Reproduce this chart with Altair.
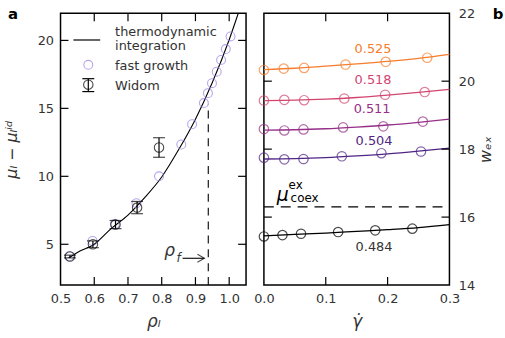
import altair as alt
import pandas as pd

# ---------------- Panel a data ----------------
rho_ti = [0.524, 0.55, 0.6, 0.65, 0.7, 0.75, 0.8, 0.85, 0.9, 0.95, 1.0, 1.027]
mu_ti = [4.0, 4.4, 5.0, 6.15, 7.15, 8.45, 9.95, 11.95, 14.2, 16.9, 20.05, 22.0]

rho_fast = [0.526, 0.595, 0.661, 0.725, 0.792, 0.858, 0.890, 0.925, 0.937, 0.949, 0.963, 0.976, 0.990, 1.004]
mu_fast = [4.12, 5.25, 6.49, 8.02, 10.0, 12.34, 13.83, 15.39, 16.12, 16.85, 17.7, 18.56, 19.36, 20.29]

rho_widom = [0.528, 0.596, 0.663, 0.727, 0.792]
mu_widom = [4.1, 5.0, 6.45, 7.7, 12.12]
err_widom = [0.1, 0.25, 0.3, 0.45, 0.72]

rho_f = [0.938]
rho_f_top = [15.3]

# ---------------- Panel b data ----------------
series = ["0.484", "0.504", "0.511", "0.518", "0.525"]
series_colors = ["#000000", "#4f2584", "#952f87", "#d1456f", "#f57d2c"]

gam_484 = [0.0, 0.03, 0.06, 0.12, 0.18, 0.24]
w_484 = [15.43, 15.47, 15.51, 15.56, 15.61, 15.66]
gam_504 = [0.0, 0.033, 0.064, 0.126, 0.19, 0.254]
w_504 = [17.75, 17.70, 17.71, 17.79, 17.88, 17.93]
gam_511 = [0.0, 0.033, 0.064, 0.128, 0.193, 0.257]
w_511 = [18.59, 18.55, 18.58, 18.64, 18.67, 18.81]
gam_518 = [0.0, 0.033, 0.065, 0.130, 0.196, 0.260]
w_518 = [19.43, 19.45, 19.44, 19.49, 19.60, 19.68]
gam_525 = [0.0, 0.032, 0.065, 0.132, 0.197, 0.264]
w_525 = [20.33, 20.37, 20.39, 20.49, 20.57, 20.69]

fit_gamma = [0.0, 0.05, 0.1, 0.15, 0.2, 0.25, 0.3]
fit_484 = [15.45, 15.49, 15.53, 15.58, 15.63, 15.69, 15.78]
fit_504 = [17.71, 17.72, 17.75, 17.80, 17.86, 17.94, 18.03]
fit_511 = [18.56, 18.57, 18.60, 18.65, 18.71, 18.79, 18.88]
fit_518 = [19.43, 19.44, 19.47, 19.52, 19.59, 19.67, 19.76]
fit_525 = [20.34, 20.38, 20.44, 20.51, 20.58, 20.67, 20.79]

mu_coex = [16.3]

left_xticks = [0.6, 0.7, 0.8, 0.9, 1.0]
left_yticks = [5, 10, 15, 20]
right_xticks = [0.1, 0.2]
right_yticks = [16, 18, 20]

# ---------------- build ----------------
W, H = 187, 274
FONT = "DejaVu Sans"
TXT = "#333333"
FAST = "#9a80e4"

xa = alt.Scale(domain=[0.5, 1.05], nice=False, zero=False, padding=0)
ya = alt.Scale(domain=[2, 22], nice=False, zero=False, padding=0)
xb = alt.Scale(domain=[0, 0.3], nice=False, zero=False, padding=0)
yb = alt.Scale(domain=[14, 22], nice=False, zero=False, padding=0)

common = dict(ticks=False, domain=False, grid=False, labelFontSize=13, labelColor=TXT, labelFont=FONT,
              labelFlush=False, labelOverlap=False,
              titleFontWeight="normal", titleColor=TXT, titleFont=FONT, titleFontStyle="italic")
ax_xa = alt.Axis(values=[0.5, 0.6, 0.7, 0.8, 0.9, 1.0], format=".1f", labelPadding=8,
                 title="ρₗ", titleFontSize=17, titlePadding=8, **common)
ax_ya = alt.Axis(values=[5, 10, 15, 20], labelPadding=7,
                 title="μₗ − μₗⁱᵈ", titleFontSize=16, titlePadding=18, **common)
ax_xb = alt.Axis(values=[0.0, 0.1, 0.2, 0.3], format=".1f", labelPadding=8,
                 title="γ̇", titleFontSize=17, titlePadding=8, **common)
ax_yb = alt.Axis(orient="right", values=[14, 16, 18, 20, 22], labelPadding=9,
                 title="wₑₓ", titleFontSize=16, titleAngle=270, titlePadding=19, **common)


def XA(f):
    return alt.X(f, type="quantitative", scale=xa, axis=ax_xa)


def YA(f):
    return alt.Y(f, type="quantitative", scale=ya, axis=ax_ya)


def XB(f):
    return alt.X(f, type="quantitative", scale=xb, axis=ax_xb)


def YB(f):
    return alt.Y(f, type="quantitative", scale=yb, axis=ax_yb)


one = pd.DataFrame({"k": [0]})


def tick_layers(X, Y, xt, yt, L=8):
    dx = pd.DataFrame({"t": xt})
    dy = pd.DataFrame({"t": yt})
    r = dict(color="black", strokeWidth=1.2)
    return [
        alt.Chart(dx).mark_rule(**r).encode(x=X("t"), y=alt.value(H), y2=alt.value(H - L)),
        alt.Chart(dx).mark_rule(**r).encode(x=X("t"), y=alt.value(0), y2=alt.value(L)),
        alt.Chart(dy).mark_rule(**r).encode(y=Y("t"), x=alt.value(0), x2=alt.value(L)),
        alt.Chart(dy).mark_rule(**r).encode(y=Y("t"), x=alt.value(W), x2=alt.value(W - L)),
    ]


def label(txt, x, y, size=13, color=TXT, style="normal", weight="normal", align="center"):
    return alt.Chart(one).mark_text(
        text=txt, fontSize=size, color=color, font=FONT, fontStyle=style,
        fontWeight=weight, align=align, baseline="middle"
    ).encode(x=alt.value(x), y=alt.value(y))


# ---- panel a ----
ti_df = pd.DataFrame({"rho": rho_ti, "mu": mu_ti})
fast_df = pd.DataFrame({"rho": rho_fast, "mu": mu_fast})
wid_df = pd.DataFrame({"rho": rho_widom, "mu": mu_widom, "err": err_widom})
wid_df["lo"] = wid_df["mu"] - wid_df["err"]
wid_df["hi"] = wid_df["mu"] + wid_df["err"]
rf_df = pd.DataFrame({"rho": rho_f, "top": rho_f_top, "bot": [2.0]})

ti = alt.Chart(ti_df).mark_line(color="black", strokeWidth=1.1, interpolate="monotone", clip=True).encode(
    x=XA("rho"), y=YA("mu"))

rf_line = alt.Chart(rf_df).mark_rule(color="black", strokeWidth=1.1, strokeDash=[8, 6]).encode(
    x=XA("rho"), y=YA("bot"), y2="top:Q")

fast = alt.Chart(fast_df).mark_point(shape="circle", size=80, color=FAST, strokeWidth=1.1, filled=False).encode(
    x=XA("rho"), y=YA("mu"))

wid_bar = alt.Chart(wid_df).mark_rule(color="black", strokeWidth=1.2).encode(
    x=XA("rho"), y=YA("lo"), y2="hi:Q")
wid_cap_lo = alt.Chart(wid_df).mark_tick(color="black", orient="horizontal", size=12, thickness=1.2).encode(
    x=XA("rho"), y=YA("lo"))
wid_cap_hi = alt.Chart(wid_df).mark_tick(color="black", orient="horizontal", size=12, thickness=1.2).encode(
    x=XA("rho"), y=YA("hi"))
wid_pt = alt.Chart(wid_df).mark_point(shape="circle", size=90, color="black", strokeWidth=1.1, filled=False).encode(
    x=XA("rho"), y=YA("mu"))

# legend (manual)
leg_line = alt.Chart(one).mark_rule(color="black", strokeWidth=1.2).encode(
    x=alt.value(13), x2=alt.value(40), y=alt.value(27))
leg_fast = alt.Chart(one).mark_point(shape="circle", size=80, color=FAST, strokeWidth=1.1, filled=False).encode(
    x=alt.value(28), y=alt.value(52))
leg_wid_pt = alt.Chart(one).mark_point(shape="circle", size=90, color="black", strokeWidth=1.1, filled=False).encode(
    x=alt.value(28), y=alt.value(72))
leg_wid_bar = alt.Chart(one).mark_rule(color="black", strokeWidth=1.2).encode(
    x=alt.value(28), y=alt.value(66), y2=alt.value(79))
leg_wid_c1 = alt.Chart(one).mark_rule(color="black", strokeWidth=1.2).encode(
    x=alt.value(22), x2=alt.value(34), y=alt.value(66))
leg_wid_c2 = alt.Chart(one).mark_rule(color="black", strokeWidth=1.2).encode(
    x=alt.value(22), x2=alt.value(34), y=alt.value(79))

leg_texts = [
    label("thermodynamic", 55, 19, align="left"),
    label("integration", 55, 33, align="left"),
    label("fast growth", 55, 53, align="left"),
    label("Widom", 55, 73, align="left"),
]

# rho_f annotation
arrow_line = alt.Chart(one).mark_rule(color="black", strokeWidth=1.1).encode(
    x=alt.value(123), x2=alt.value(145), y=alt.value(247))
arrow_head = alt.Chart(one).mark_point(shape="M-1.4,-0.8L0,0L-1.4,0.8", size=100, color="black",
                                       strokeWidth=1.1, filled=False).encode(
    x=alt.value(145), y=alt.value(247))
rho_lbl = label("ρ", 110, 240, size=17, style="italic")
f_lbl = label("f", 119, 247, size=12, style="italic")
a_lbl = label("a", -48, 1, size=15, color="black", weight="bold")

left = alt.layer(
    ti, rf_line, fast, wid_bar, wid_cap_lo, wid_cap_hi, wid_pt,
    leg_line, leg_fast, leg_wid_bar, leg_wid_c1, leg_wid_c2, leg_wid_pt, *leg_texts,
    arrow_line, arrow_head, rho_lbl, f_lbl, a_lbl,
    *tick_layers(XA, YA, left_xticks, left_yticks)
).properties(width=W, height=H)

# ---- panel b ----
pts = []
for s, g, w in [("0.484", gam_484, w_484), ("0.504", gam_504, w_504), ("0.511", gam_511, w_511),
                ("0.518", gam_518, w_518), ("0.525", gam_525, w_525)]:
    for gi, wi in zip(g, w):
        pts.append({"series": s, "gamma": gi, "w": wi})
pts_df = pd.DataFrame(pts)

fits = []
for s, f in [("0.484", fit_484), ("0.504", fit_504), ("0.511", fit_511), ("0.518", fit_518), ("0.525", fit_525)]:
    for gi, wi in zip(fit_gamma, f):
        fits.append({"series": s, "gamma": gi, "w": wi})
fit_df = pd.DataFrame(fits)

cscale = alt.Scale(domain=series, range=series_colors)

fit_lines = alt.Chart(fit_df).mark_line(strokeWidth=1.3, interpolate="monotone").encode(
    x=XB("gamma"), y=YB("w"),
    color=alt.Color("series:N", scale=cscale, legend=None),
    detail="series:N",
)

b_pts = alt.Chart(pts_df).mark_point(shape="circle", size=90, strokeWidth=1.2, filled=False).encode(
    x=XB("gamma"), y=YB("w"),
    color=alt.Color("series:N", scale=cscale, legend=None))

coex = alt.Chart(pd.DataFrame({"w": mu_coex})).mark_rule(color="black", strokeWidth=1.1, strokeDash=[10, 7]).encode(
    y=YB("w"), x=alt.value(0), x2=alt.value(W))

series_lbls = [
    label("0.525", 110, 36, color=series_colors[4]),
    label("0.518", 110, 67, color=series_colors[3]),
    label("0.511", 109, 97, color=series_colors[2]),
    label("0.504", 111, 129, color=series_colors[1]),
    label("0.484", 111, 236, color=TXT),
]
mu_lbl = label("μ", 19, 183, size=19, style="italic", color="black")
ex_lbl = label("ex", 32, 173, size=12, color="black")
coex_lbl = label("coex", 41, 186, size=12, color="black")
b_lbl = label("b", 236, 1, size=15, color="black", weight="bold")

right = alt.layer(
    fit_lines, b_pts, coex, *series_lbls, mu_lbl, ex_lbl, coex_lbl, b_lbl,
    *tick_layers(XB, YB, right_xticks, right_yticks)
).properties(width=W, height=H)

chart = alt.hconcat(left, right, spacing=4).properties(
    padding={"left": 2, "top": 5, "right": 0, "bottom": 0}
).configure(font=FONT).configure_view(stroke="black", strokeWidth=1.5)

chart.save("out.html", embed_options={"renderer": "svg", "actions": False})
